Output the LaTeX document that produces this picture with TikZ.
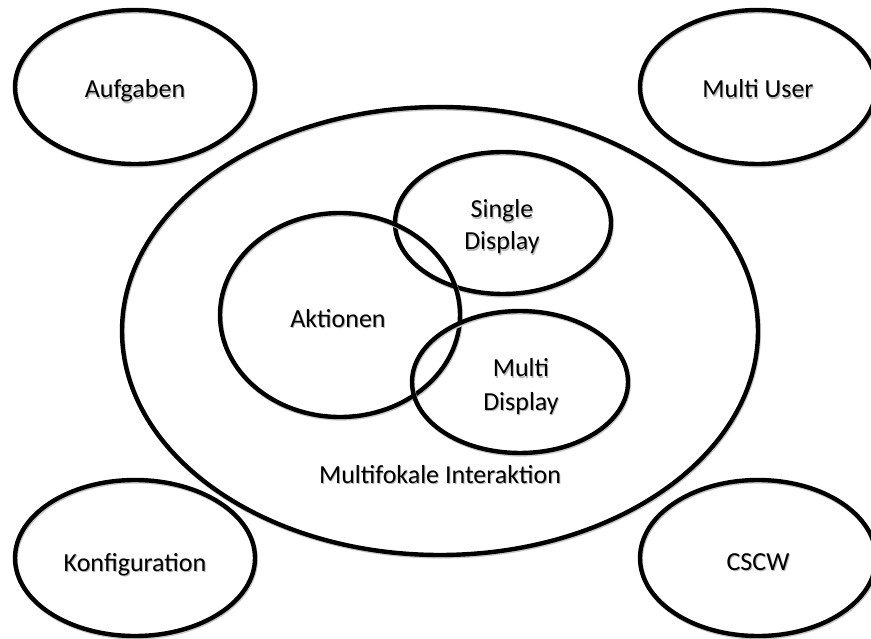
\documentclass[tikz,border=0pt]{standalone}
\usepackage{fontspec}
\setmainfont{Carlito}
\usetikzlibrary{shapes.geometric}

% text with a soft grey drop shadow
\newcommand\shd[1]{\makebox[0pt][l]{\raisebox{-1.4pt}{\hspace{1pt}\textcolor{black!28}{#1}}}#1}

\tikzset{
  oval/.style={ellipse, draw=black, line width=4.4pt, inner sep=0pt,
    preaction={draw=black!22, line width=4.4pt, transform canvas={shift={(0.8pt,-1.4pt)}}}},
  lbl/.style={font=\fontsize{26}{32}\selectfont, inner sep=0pt, anchor=base}
}

\begin{document}
\begin{tikzpicture}[x=1pt,y=-1pt]
  \useasboundingbox (0,0) rectangle (871,639);

  % outer topics
  \node[oval, minimum width=240pt, minimum height=154pt] (aufg) at (135,87) {};
  \node[oval, minimum width=236pt, minimum height=154pt] (muser) at (758,87) {};
  \node[oval, minimum width=240pt, minimum height=156pt] (konf) at (135,558) {};
  \node[oval, minimum width=236pt, minimum height=156pt] (cscw) at (758,558) {};

  \node[lbl] (aufglbl) at (135,98) {\shd{Aufgaben}};
  \node[lbl] (muserlbl) at (758,98) {\shd{Multi User}};
  \node[lbl] (konflbl) at (135,571) {\shd{Konfiguration}};
  \node[lbl] (cscwlbl) at (758,570) {\shd{CSCW}};

  % multifocal interaction and its parts
  \node[oval, minimum width=636pt, minimum height=448pt] (mfi) at (440,331) {};
  \node[oval, minimum width=216pt, minimum height=142pt] (sdisp) at (503,223) {};
  \node[oval, minimum width=240pt, minimum height=204pt] (akt) at (340,315) {};
  \node[oval, minimum width=216pt, minimum height=142pt] (mdisp) at (520,382) {};

  \node[lbl] (mfilbl) at (440,483) {\shd{Multifokale Interaktion}};
  \node[lbl] (sdisplbl1) at (502,218) {\shd{Single}};
  \node[lbl] (sdisplbl2) at (502,250) {\shd{Display}};
  \node[lbl] (aktlbl) at (338,327) {\shd{Aktionen}};
  \node[lbl] (mdisplbl1) at (521,377) {\shd{Multi}};
  \node[lbl] (mdisplbl2) at (521,410) {\shd{Display}};
\end{tikzpicture}
\end{document}
